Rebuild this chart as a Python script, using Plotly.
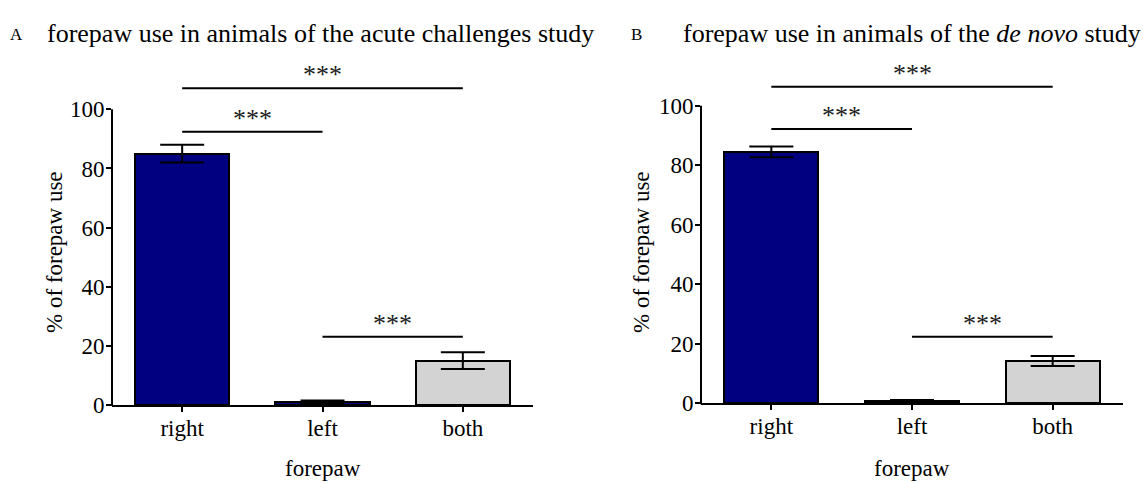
import plotly.graph_objects as go

# ---------------- data ----------------
categories = ["right", "left", "both"]
acute_mean = [85.0, 1.0, 15.0]
acute_sem = [3.0, 0.5, 2.8]
denovo_mean = [84.5, 0.8, 14.2]
denovo_sem = [1.8, 0.3, 1.7]
bar_colors = ["#000080", "#000080", "#D3D3D3"]
y_ticks = [0, 20, 40, 60, 80, 100]
comparisons = [(0, 2), (0, 1), (1, 2)]
comparison_labels = ["***", "***", "***"]
acute_bracket_y = [107.1, 92.4, 23.1]
denovo_bracket_y = [106.4, 92.2, 22.4]

# ---------------- layout constants ----------------
W, H = 1145, 483
HP = 470.0   # effective rendered paper height (calibrated)
FONT = "Liberation Serif, Times New Roman, serif"
YMAX = 115


def px_x(p):
    return p / W


def px_y(p):
    return 1 - p / HP


dom = {
    1: dict(x=[px_x(112), px_x(533)], y=[px_y(405), px_y(405 - 115 * 2.957)]),
    2: dict(x=[px_x(701), px_x(1123)], y=[px_y(403.3), px_y(403.3 - 115 * 2.976)]),
}

fig = go.Figure()

panels = [
    (1, acute_mean, acute_sem, acute_bracket_y),
    (2, denovo_mean, denovo_sem, denovo_bracket_y),
]

shapes = []
annotations = []

for idx, means, sems, bracket_y in panels:
    xa = "x" if idx == 1 else f"x{idx}"
    ya = "y" if idx == 1 else f"y{idx}"
    fig.add_trace(go.Bar(
        x=list(range(len(categories))), y=means,
        width=0.67,
        marker=dict(color=bar_colors, line=dict(color="black", width=2)),
        error_y=dict(type="data", array=sems, visible=True, color="black",
                     thickness=2, width=22),
        xaxis=xa, yaxis=ya, showlegend=False,
    ))
    # y axis line from 0 to 100 only
    d = dom[idx]
    y0 = d["y"][0]
    y1 = d["y"][0] + (d["y"][1] - d["y"][0]) * 100 / YMAX
    shapes.append(dict(type="line", xref="paper", yref="paper",
                       x0=d["x"][0], x1=d["x"][0], y0=y0 - 1 / HP, y1=y1,
                       line=dict(color="black", width=2)))
    # significance brackets
    for (a, b), lab, yy in zip(comparisons, comparison_labels, bracket_y):
        shapes.append(dict(type="line", xref=xa, yref=ya, x0=a, x1=b, y0=yy, y1=yy,
                           line=dict(color="black", width=2)))
        annotations.append(dict(xref=xa, yref=ya, x=(a + b) / 2, y=yy, text=lab,
                                showarrow=False, yanchor="bottom", yshift=-3,
                                font=dict(family=FONT, size=26, color="#1a1a1a")))
    # axis titles
    xc = (d["x"][0] + d["x"][1]) / 2
    annotations.append(dict(xref="paper", yref="paper", x=xc, y=px_y(468),
                            text="forepaw", showarrow=False, xanchor="center",
                            yanchor="middle",
                            font=dict(family=FONT, size=23, color="black")))
    annotations.append(dict(xref="paper", yref="paper",
                            x=px_x(54 if idx == 1 else 641), y=px_y(252),
                            text="% of forepaw use", textangle=-90, showarrow=False,
                            xanchor="center", yanchor="middle",
                            font=dict(family=FONT, size=23, color="black")))

# panel titles
annotations += [
    dict(xref="paper", yref="paper", x=px_x(16), y=px_y(34), text="A",
         showarrow=False, xanchor="center", yanchor="middle",
         font=dict(family=FONT, size=17, color="black")),
    dict(xref="paper", yref="paper", x=px_x(45), y=px_y(33),
         text="forepaw use in animals of the acute challenges study",
         showarrow=False, xanchor="left", yanchor="middle",
         font=dict(family=FONT, size=26, color="black")),
    dict(xref="paper", yref="paper", x=px_x(636), y=px_y(34), text="B",
         showarrow=False, xanchor="center", yanchor="middle",
         font=dict(family=FONT, size=17, color="black")),
    dict(xref="paper", yref="paper", x=px_x(681), y=px_y(33),
         text="forepaw use in animals of the <i>de novo</i> study",
         showarrow=False, xanchor="left", yanchor="middle",
         font=dict(family=FONT, size=26, color="black")),
]

xaxis_common = dict(range=[-0.5, 2.5], tickvals=list(range(len(categories))),
                    ticktext=categories, showline=True, linecolor="black",
                    linewidth=2, ticks="outside", ticklen=5, tickwidth=2,
                    tickcolor="black", showgrid=False, zeroline=False,
                    ticklabelstandoff=-4,
                    tickfont=dict(family=FONT, size=23, color="black"),
                    fixedrange=True)
yaxis_common = dict(range=[0, YMAX], tickvals=y_ticks, showline=False,
                    ticks="outside", ticklen=5, tickwidth=2, tickcolor="black",
                    showgrid=False, zeroline=False,
                    ticklabelstandoff=-3,
                    tickfont=dict(family=FONT, size=23, color="black"),
                    fixedrange=True)

fig.update_layout(
    width=W, height=H,
    margin=dict(l=0, r=0, t=0, b=0),
    paper_bgcolor="white", plot_bgcolor="white",
    bargap=0,
    xaxis=dict(domain=dom[1]["x"], anchor="y", **xaxis_common),
    yaxis=dict(domain=dom[1]["y"], anchor="x", **yaxis_common),
    xaxis2=dict(domain=dom[2]["x"], anchor="y2", **xaxis_common),
    yaxis2=dict(domain=dom[2]["y"], anchor="x2", **yaxis_common),
    shapes=shapes,
    annotations=annotations,
)

fig.write_html("out.html")
